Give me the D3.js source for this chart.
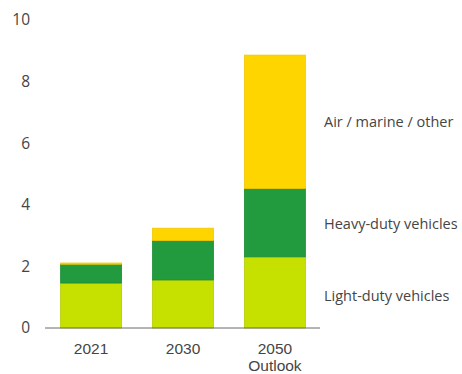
<!DOCTYPE html>
<html>
<head>
<meta charset="utf-8">
<script src="https://cdn.jsdelivr.net/npm/d3@7"></script>
<style>
  html, body { margin: 0; padding: 0; background: #fff; }
  svg { display: block; font-family: "Open Sans", sans-serif; }
</style>
</head>
<body>
<svg id="chart" width="462" height="374"></svg>
<script>
// Road and non-road transport demand by segment
const categories = ["2021", "2030", "2050\nOutlook"];
const lightDuty = [1.46, 1.56, 2.31];
const heavyDuty = [0.61, 1.28, 2.22];
const airMarine = [0.04, 0.40, 4.33];
const seriesNames = ["Light-duty vehicles", "Heavy-duty vehicles", "Air / marine / other"];
const yTicks = [0, 2, 4, 6, 8, 10];

const colors = ["#c6e000", "#219b3d", "#ffd500"];
const strokes = ["#b2cc00", "#198c35", "#f2c800"];

const svg = d3.select("#chart");

const x = d3.scaleBand()
  .domain(categories)
  .range([45, 321])
  .paddingInner(0.337)
  .paddingOuter(0.17);

const y = d3.scaleLinear().domain([0, 10]).range([328, 20]);

const rows = categories.map((c, i) => ({
  cat: c, light: lightDuty[i], heavy: heavyDuty[i], air: airMarine[i]
}));
const stack = d3.stack().keys(["light", "heavy", "air"]);
const layers = stack(rows);

svg.append("g")
  .selectAll("g")
  .data(layers)
  .join("g")
  .attr("fill", (d, i) => colors[i])
  .attr("stroke", (d, i) => strokes[i])
  .attr("stroke-width", 0.8)
  .selectAll("rect")
  .data(d => d)
  .join("rect")
  .attr("x", d => x(d.data.cat))
  .attr("width", x.bandwidth())
  .attr("y", d => y(d[1]))
  .attr("height", d => y(d[0]) - y(d[1]));

// baseline
svg.append("line")
  .attr("x1", 45).attr("x2", 320)
  .attr("y1", y(0)).attr("y2", y(0))
  .attr("stroke", "#6b6b6b").attr("stroke-width", 1);

// y axis labels
const yAxis = d3.axisLeft(y).tickValues(yTicks).tickSize(0).tickPadding(0);
const yg = svg.append("g").attr("transform", "translate(30,0)").call(yAxis);
yg.select(".domain").remove();
yg.selectAll("text")
  .attr("fill", "#454545")
  .style("font-size", "15.5px")
  .style("font-family", "'Open Sans', sans-serif");

// x axis labels (multi-line)
const xAxis = d3.axisBottom(x).tickSize(0).tickPadding(0).tickFormat("");
const xg = svg.append("g").attr("transform", "translate(0,328)").call(xAxis);
xg.select(".domain").remove();
xg.selectAll(".tick").each(function (d) {
  const t = d3.select(this).append("text")
    .attr("fill", "#454545")
    .attr("text-anchor", "middle")
    .style("font-size", "15.5px");
  d.split("\n").forEach((line, i) => {
    t.append("tspan").attr("x", 0).attr("y", 25.5 + i * 17).text(line);
  });
});

// series labels at the right of the last bar
const labelY = [300.7, 229, 126.7];
seriesNames.forEach((name, i) => {
  svg.append("text")
    .attr("x", 324)
    .attr("y", labelY[i])
    .attr("fill", "#454545")
    .style("font-size", "14.5px")
    .text(name);
});
</script>
</body>
</html>
